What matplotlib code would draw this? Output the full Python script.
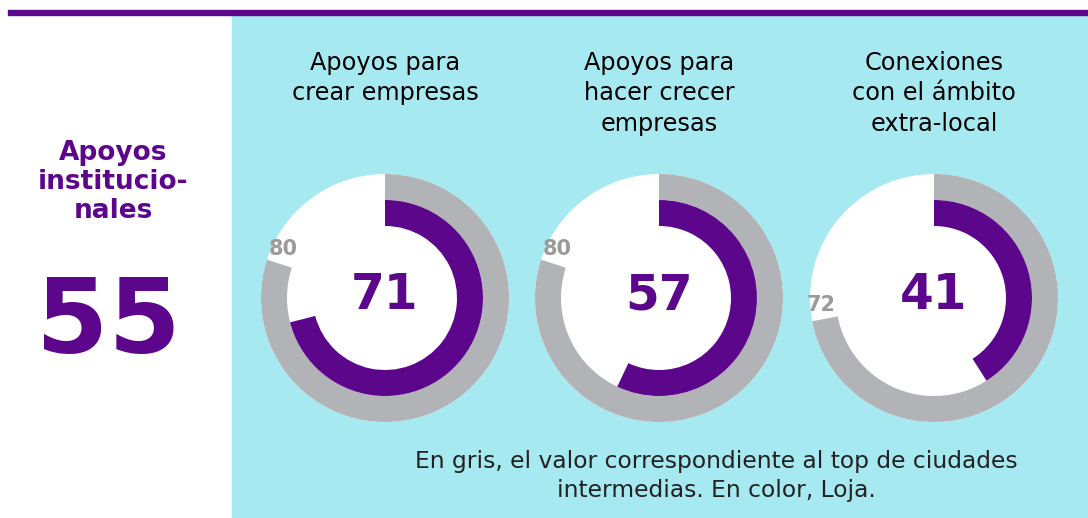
import matplotlib
matplotlib.use("Agg")
import matplotlib.pyplot as plt
from matplotlib.patches import Rectangle, Circle
import numpy as np

# datos
titulos = ["Apoyos para\ncrear empresas",
           "Apoyos para\nhacer crecer\nempresas",
           "Conexiones\ncon el ámbito\nextra-local"]
valor_top = [80, 80, 72]      # gris: top de ciudades intermedias
valor_loja = [71, 57, 41]     # color: Loja
indicador = "Apoyos\ninstitucio-\nnales"
indicador_valor = 55
nota = "En gris, el valor correspondiente al top de ciudades\nintermedias. En color, Loja."

morado = "#5c068c"
gris = "#b2b3b7"
cian = "#a6e9f0"
transparente = (0, 0, 0, 0)

plt.rcParams["font.family"] = ["DejaVu Sans"]

fig = plt.figure(figsize=(10.88, 5.18), dpi=100)
ax = fig.add_axes([0, 0, 1, 1])
H = 518

# fondo y linea superior
ax.add_patch(Rectangle((232, 0), 856, H - 15, color=cian, zorder=0))
ax.add_patch(Rectangle((8, H - 15), 1080, 5, color=morado, zorder=1))

# panel izquierdo
ax.text(113, H - 182, indicador, ha="center", va="center", fontsize=19,
        fontweight="bold", color=morado, linespacing=1.13)
ax.text(108, H - 325, str(indicador_valor), ha="center", va="center",
        fontsize=75, fontweight="bold", color=morado)

centros_x = [385, 659, 934]
cy = H - 298
R = 124
ancho = 26

for i in range(3):
    cx = centros_x[i]
    ax.add_patch(Circle((cx, cy), R, color="white", linewidth=0, zorder=1))
    ax.pie([valor_top[i], 100 - valor_top[i]], colors=[gris, transparente],
           startangle=90, counterclock=False, radius=R, center=(cx, cy),
           wedgeprops=dict(width=ancho, linewidth=0))
    ax.pie([valor_loja[i], 100 - valor_loja[i]], colors=[morado, transparente],
           startangle=90, counterclock=False, radius=R - ancho, center=(cx, cy),
           wedgeprops=dict(width=ancho, linewidth=0))
    ax.text(cx, cy + 3, str(valor_loja[i]), ha="center", va="center",
            fontsize=35, fontweight="bold", color=morado, zorder=4)
    # etiqueta del valor gris
    ang = np.deg2rad(90 - 360 * valor_top[i] / 100 + 360 - 7.5)
    r_lab = R - ancho / 2 + 2
    ax.text(cx + r_lab * np.cos(ang), cy + r_lab * np.sin(ang), str(valor_top[i]),
            ha="center", va="center", fontsize=15, fontweight="bold",
            color="#9a9a9a", zorder=4)
    ax.text(cx, H - 51, titulos[i], ha="center", va="top", fontsize=17.3,
            color="black", linespacing=1.33)

ax.text(716, H - 476, nota, ha="center", va="center", fontsize=16.8,
        color="#222222", linespacing=1.3)

ax.set_xlim(0, 1088)
ax.set_ylim(0, H)
ax.set_aspect("auto")
ax.axis("off")

fig.savefig("out.png", dpi=100)
